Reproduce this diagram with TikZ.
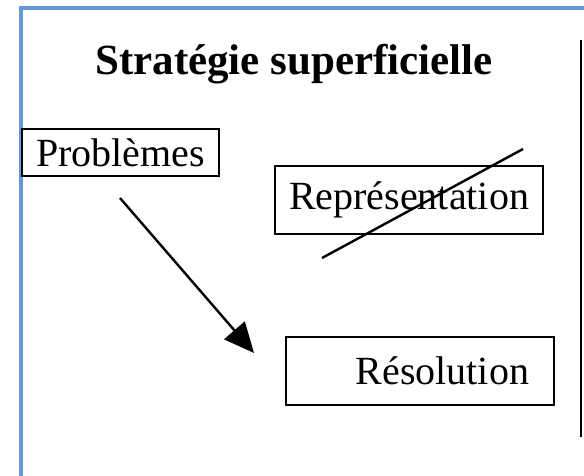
\documentclass[tikz,border=0pt]{standalone}
\usepackage{fontspec}
\setmainfont{Liberation Serif}
\usetikzlibrary{arrows.meta}
\definecolor{framblue}{RGB}{102,153,210}
\tikzset{
  boxnode/.style={draw=black, line width=2.6pt, minimum height=68pt, inner sep=0pt, font=\fontsize{40}{44}\selectfont},
  thin line/.style={line width=2.4pt, black}
}
\begin{document}
\begin{tikzpicture}[x=1pt,y=-1pt]
\useasboundingbox (0,0) rectangle (584,476);
% frame
\draw[framblue, line width=3.2pt] (21,478) -- (21,8) -- (586,8);
\draw[black, line width=2.8pt] (581,40) -- (581,437);
% title
\node[font=\fontsize{43}{48}\selectfont\bfseries] (title) at (294,64) {Stratégie superficielle};
% boxes
\node[boxnode, minimum width=197pt, minimum height=47pt] (prob) at (120.5,152.5) {Problèmes};
\node[boxnode, minimum width=268pt] (repr) at (409,200) {Représentation};
\node[boxnode, text width=218pt, inner xsep=25pt, align=right] (reso) at (420,371) {Résolution};
% strike line
\coordinate (s1) at (322,258);
\coordinate (s2) at (523,149);
\draw[thin line] (s1) -- (s2);
% arrow
\coordinate (a1) at (120,198);
\coordinate (a2) at (254,353);
\draw[thin line, -{Triangle[length=30pt,width=27pt]}] (a1) -- (a2);
\end{tikzpicture}
\end{document}
